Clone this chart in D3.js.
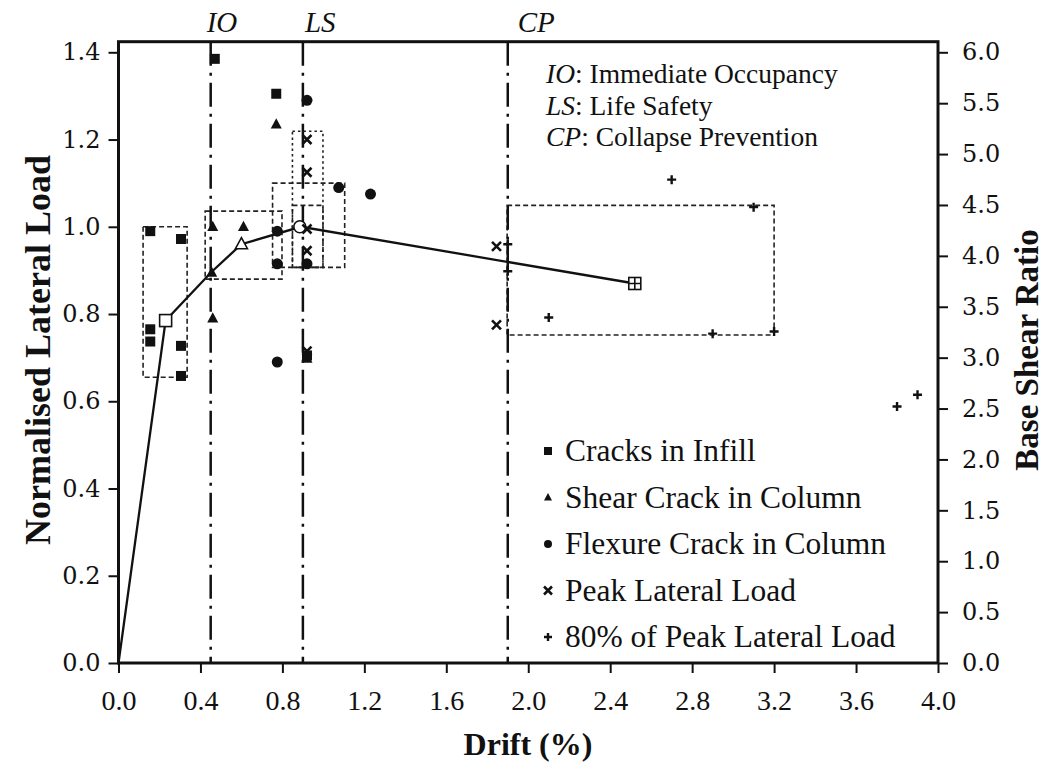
<!DOCTYPE html>
<html>
<head>
<meta charset="utf-8">
<script src="https://cdn.jsdelivr.net/npm/d3@7"></script>
<style>
  body { margin: 0; background: #fff; }
  text { fill: #111; }
</style>
</head>
<body>
<svg id="chart" width="1045" height="764"></svg>
<script>
// ---- data ----
const xTicks = [0, 0.4, 0.8, 1.2, 1.6, 2.0, 2.4, 2.8, 3.2, 3.6, 4.0];
const yTicks = [0, 0.2, 0.4, 0.6, 0.8, 1.0, 1.2, 1.4];
const y2Ticks = [0, 0.5, 1.0, 1.5, 2.0, 2.5, 3.0, 3.5, 4.0, 4.5, 5.0, 5.5, 6.0];

// backbone curve [drift %, normalised load]
const backbone = [[0, 0], [0.23, 0.785], [0.455, 0.897], [0.60, 0.96], [0.89, 1.0], [2.52, 0.87]];
const backboneMarks = [
  {type: "openSquare", x: 0.23, y: 0.785},
  {type: "openTriangle", x: 0.60, y: 0.96},
  {type: "openCircle", x: 0.885, y: 1.0},
  {type: "crossSquare", x: 2.52, y: 0.87}
];

const cracksInfill = [[0.155, 0.99], [0.305, 0.972], [0.155, 0.765], [0.155, 0.737], [0.305, 0.727],
  [0.305, 0.658], [0.47, 1.385], [0.77, 1.305], [0.92, 0.705]];
const shearCrack = [[0.46, 1.0], [0.61, 1.0], [0.46, 0.79], [0.77, 1.235], [0.455, 0.895], [0.92, 0.698]];
const flexureCrack = [[0.92, 1.29], [1.075, 1.09], [1.23, 1.075], [0.775, 0.99], [0.775, 0.915],
  [0.92, 0.915], [0.775, 0.69]];
const peakLoad = [[0.92, 1.20], [0.92, 1.125], [0.92, 0.995], [0.92, 0.945], [0.92, 0.715],
  [1.845, 0.955], [1.845, 0.775]];
const eightyPeak = [[1.90, 0.96], [1.90, 0.898], [2.10, 0.792], [2.70, 1.108], [3.10, 1.045],
  [2.90, 0.755], [3.20, 0.76], [3.80, 0.588], [3.90, 0.615]];

// performance levels (drift %)
const levels = [{name: "IO", x: 0.45}, {name: "LS", x: 0.90}, {name: "CP", x: 1.90}];
const levelNotes = [["IO", ": Immediate Occupancy"], ["LS", ": Life Safety"], ["CP", ": Collapse Prevention"]];

// dashed grouping boxes [x0, x1, y0, y1]
const boxes = [
  {b: [0.12, 0.335, 0.655, 1.0], dash: "5,3"},
  {b: [0.423, 0.798, 0.88, 1.036], dash: "5,3"},
  {b: [0.752, 1.104, 0.907, 1.10], dash: "5,3"},
  {b: [0.849, 0.998, 0.907, 1.219], dash: "2.5,3"},
  {b: [0.849, 0.998, 0.907, 1.049], dash: "5,3"},
  {b: [1.897, 3.20, 0.752, 1.049], dash: "5,3"}
];

const legendItems = [
  {type: "square", label: "Cracks in Infill"},
  {type: "triangle", label: "Shear Crack in Column"},
  {type: "circle", label: "Flexure Crack in Column"},
  {type: "times", label: "Peak Lateral Load"},
  {type: "plus", label: "80% of Peak Lateral Load"}
];

// ---- layout ----
const svg = d3.select("#chart");
const plotLeft = 118.5, plotRight = 938, plotTop = 41.7, plotBottom = 663;

const x = d3.scaleLinear().domain([0, 4]).range([plotLeft, plotRight]);
const y = d3.scaleLinear().domain([0, 1.4]).range([plotBottom, 52.3]);
const y2 = d3.scaleLinear().domain([0, 6]).range([plotBottom, 52.3]);

const serif = "'Liberation Serif', 'Times New Roman', serif";
const wideSerif = "'DejaVu Serif', serif";

// axes
const xAxis = svg.append("g")
  .attr("transform", "translate(0," + plotBottom + ")")
  .call(d3.axisBottom(x).tickValues(xTicks).tickFormat(d3.format(".1f")).tickSize(10).tickPadding(17));
const yAxis = svg.append("g")
  .attr("transform", "translate(" + plotLeft + ",0)")
  .call(d3.axisLeft(y).tickValues(yTicks).tickFormat(d3.format(".1f")).tickSize(10).tickPadding(8));
const y2Axis = svg.append("g")
  .attr("transform", "translate(" + plotRight + ",0)")
  .call(d3.axisRight(y2).tickValues(y2Ticks).tickFormat(d3.format(".1f")).tickSize(10).tickPadding(14));

[xAxis, yAxis, y2Axis].forEach(a => {
  a.select(".domain").remove();
  a.selectAll(".tick line").attr("stroke", "#111").attr("stroke-width", 2);
});
xAxis.selectAll(".tick text").style("font-family", serif).style("font-size", "28px").attr("fill", "#111");
yAxis.selectAll(".tick text").style("font-family", wideSerif).style("font-size", "24px").attr("fill", "#111");
y2Axis.selectAll(".tick text").style("font-family", wideSerif).style("font-size", "24px").attr("fill", "#111");

// frame
svg.append("rect")
  .attr("x", plotLeft).attr("y", plotTop)
  .attr("width", plotRight - plotLeft).attr("height", plotBottom - plotTop)
  .attr("fill", "none").attr("stroke", "#111").attr("stroke-width", 3);

// grouping boxes
svg.append("g").selectAll("rect")
  .data(boxes)
  .enter()
  .append("rect")
  .attr("x", d => x(d.b[0]))
  .attr("y", d => y(d.b[3]))
  .attr("width", d => x(d.b[1]) - x(d.b[0]))
  .attr("height", d => y(d.b[2]) - y(d.b[3]))
  .attr("fill", "none")
  .attr("stroke", "#222")
  .attr("stroke-width", 1.6)
  .attr("stroke-dasharray", d => d.dash);

// performance level lines
svg.append("g").selectAll("line")
  .data(levels)
  .enter()
  .append("line")
  .attr("x1", d => x(d.x)).attr("x2", d => x(d.x))
  .attr("y1", plotTop).attr("y2", plotBottom)
  .attr("stroke", "#111")
  .attr("stroke-width", 2.5)
  .attr("stroke-dasharray", "24,7,3,7");

const levelDx = {IO: -4, LS: 2, CP: 10};
svg.append("g").selectAll("text")
  .data(levels)
  .enter()
  .append("text")
  .attr("x", d => x(d.x) + levelDx[d.name])
  .attr("y", 32)
  .style("font-family", serif)
  .style("font-size", "29px")
  .style("font-style", "italic")
  .text(d => d.name);

// backbone
const line = d3.line().x(d => x(d[0])).y(d => y(d[1]));
svg.append("path")
  .datum(backbone)
  .attr("d", line)
  .attr("fill", "none")
  .attr("stroke", "#111")
  .attr("stroke-width", 2.3);

// marker helper
function drawMarker(g, type, cx, cy, s) {
  const h = s / 2;
  if (type === "square") {
    g.append("rect").attr("x", cx - h).attr("y", cy - h).attr("width", s).attr("height", s).attr("fill", "#111");
  } else if (type === "triangle") {
    g.append("path").attr("d", "M" + cx + "," + (cy - h * 1.1) + "L" + (cx + h) + "," + (cy + h * 0.75) +
      "L" + (cx - h) + "," + (cy + h * 0.75) + "Z").attr("fill", "#111");
  } else if (type === "circle") {
    g.append("circle").attr("cx", cx).attr("cy", cy).attr("r", h).attr("fill", "#111");
  } else if (type === "times") {
    g.append("path").attr("d", "M" + (cx - h) + "," + (cy - h) + "L" + (cx + h) + "," + (cy + h) +
      "M" + (cx - h) + "," + (cy + h) + "L" + (cx + h) + "," + (cy - h))
      .attr("stroke", "#111").attr("stroke-width", 2.6);
  } else if (type === "plus") {
    g.append("path").attr("d", "M" + (cx - h) + "," + cy + "L" + (cx + h) + "," + cy +
      "M" + cx + "," + (cy - h) + "L" + cx + "," + (cy + h))
      .attr("stroke", "#111").attr("stroke-width", 2.4);
  } else if (type === "openSquare" || type === "crossSquare") {
    g.append("rect").attr("x", cx - h).attr("y", cy - h).attr("width", s).attr("height", s)
      .attr("fill", "#fff").attr("stroke", "#111").attr("stroke-width", 1.6);
    if (type === "crossSquare") {
      g.append("path").attr("d", "M" + (cx - h) + "," + cy + "L" + (cx + h) + "," + cy +
        "M" + cx + "," + (cy - h) + "L" + cx + "," + (cy + h))
        .attr("stroke", "#111").attr("stroke-width", 1.6);
    }
  } else if (type === "openTriangle") {
    g.append("path").attr("d", "M" + cx + "," + (cy - h * 1.1) + "L" + (cx + h) + "," + (cy + h * 0.75) +
      "L" + (cx - h) + "," + (cy + h * 0.75) + "Z")
      .attr("fill", "#fff").attr("stroke", "#111").attr("stroke-width", 1.6);
  } else if (type === "openCircle") {
    g.append("circle").attr("cx", cx).attr("cy", cy).attr("r", h)
      .attr("fill", "#fff").attr("stroke", "#111").attr("stroke-width", 1.6);
  }
}

const marks = svg.append("g");
backboneMarks.forEach(d => drawMarker(marks, d.type, x(d.x), y(d.y), 12));
const series = [
  {type: "square", data: cracksInfill, s: 10},
  {type: "triangle", data: shearCrack, s: 11},
  {type: "circle", data: flexureCrack, s: 11},
  {type: "times", data: peakLoad, s: 9},
  {type: "plus", data: eightyPeak, s: 9}
];
series.forEach(sr => sr.data.forEach(d => drawMarker(marks, sr.type, x(d[0]), y(d[1]), sr.s)));

// legend of levels
const notes = svg.append("g").style("font-family", serif).style("font-size", "27.5px");
levelNotes.forEach((n, i) => {
  const t = notes.append("text").attr("x", 546).attr("y", 83 + i * 31.7);
  t.append("tspan").style("font-style", "italic").text(n[0]);
  t.append("tspan").text(n[1]);
});

// symbol legend
const legend = svg.append("g").style("font-family", serif).style("font-size", "31.5px");
legendItems.forEach((d, i) => {
  const by = 461 + i * 46.5;
  drawMarker(legend, d.type, 548, by - 10, 8);
  legend.append("text").attr("x", 565).attr("y", by).text(d.label);
});

// axis titles
svg.append("text")
  .attr("x", 528).attr("y", 755)
  .attr("text-anchor", "middle")
  .style("font-family", serif).style("font-size", "32px").style("font-weight", "bold")
  .text("Drift (%)");
svg.append("text")
  .attr("transform", "translate(50,350) rotate(-90)")
  .attr("text-anchor", "middle")
  .style("font-family", serif).style("font-size", "36px").style("font-weight", "bold")
  .text("Normalised Lateral Load");
svg.append("text")
  .attr("transform", "translate(1038,350) rotate(-90)")
  .attr("text-anchor", "middle")
  .style("font-family", serif).style("font-size", "33px").style("font-weight", "bold")
  .text("Base Shear Ratio");
</script>
</body>
</html>
